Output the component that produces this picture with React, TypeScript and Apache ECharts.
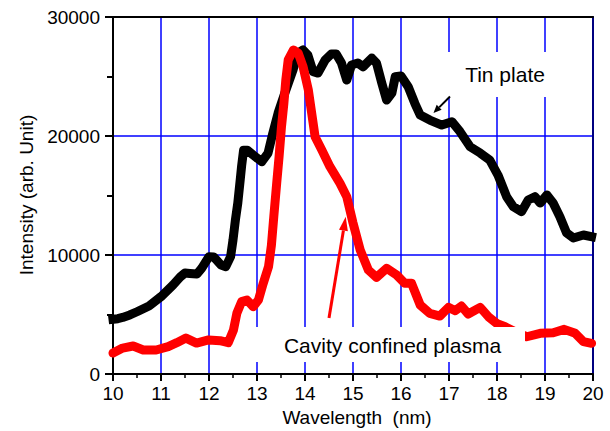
import React, { useEffect, useRef } from "react";
import * as echarts from "echarts";

const FONT = "'Liberation Sans', Arial, sans-serif";

const xTicks = [10, 11, 12, 13, 14, 15, 16, 17, 18, 19, 20];
const yTicks = [0, 10000, 20000, 30000];

const tinWavelength = [
  10.0, 10.1, 10.2, 10.35, 10.5, 10.75, 11.0, 11.25, 11.4, 11.5, 11.6, 11.75, 11.85, 12.0, 12.1,
  12.25, 12.35, 12.45, 12.5, 12.55, 12.6, 12.65, 12.68, 12.72, 12.8, 12.92, 13.1, 13.23, 13.33,
  13.44, 13.58, 13.75, 13.85, 13.96, 14.06, 14.17, 14.27, 14.42, 14.55, 14.65, 14.76, 14.87,
  14.97, 15.1, 15.21, 15.39, 15.49, 15.6, 15.7, 15.81, 15.88, 16.0, 16.15, 16.29, 16.4, 16.6,
  16.85, 17.06, 17.23, 17.44, 17.65, 17.85, 18.02, 18.2, 18.34, 18.51, 18.65, 18.79, 18.9,
  19.04, 19.17, 19.31, 19.45, 19.59, 19.8, 19.97,
];
const tinIntensity = [
  4600, 4650, 4750, 4960, 5230, 5710, 6500, 7480, 8150, 8490, 8450, 8400, 8900, 9860, 9830,
  9160, 9020, 9860, 11260, 12940, 14370, 16300, 17500, 18800, 18800, 18400, 17840, 18570, 20250,
  21930, 23610, 25550, 26970, 27230, 26800, 25400, 25290, 26390, 26900, 26900, 26130, 24700,
  25970, 26130, 25820, 26550, 26130, 24450, 23020, 23610, 24980, 25050, 24140, 22730, 21760, 21340,
  20920, 21200, 20360, 19100, 18570, 17980, 16720, 14900, 14060, 13640, 14620, 14900, 14370,
  15040, 14370, 13220, 11850, 11430, 11680, 11540,
];

const cavityWavelength = [
  10.0, 10.2, 10.42, 10.63, 10.9, 11.15, 11.33, 11.52, 11.74, 11.99, 12.23, 12.4, 12.51, 12.58,
  12.68, 12.79, 12.92, 13.03, 13.13, 13.24, 13.3, 13.35, 13.41, 13.46, 13.51, 13.56, 13.6, 13.65,
  13.76, 13.86, 13.96, 14.07, 14.14, 14.21, 14.35, 14.52, 14.73, 14.87, 15.0, 15.15, 15.32, 15.49,
  15.7, 15.91, 16.08, 16.22, 16.4, 16.6, 16.81, 16.99, 17.13, 17.26, 17.4, 17.65, 17.82, 17.99,
  18.17, 18.4, 18.62, 18.9, 19.17, 19.4, 19.63, 19.8, 19.97,
];
const cavityIntensity = [
  1760, 2180, 2350, 2020, 2020, 2300, 2630, 3020, 2600, 2860, 2800, 2630, 3700, 5100,
  6080, 6220, 5660, 6220, 7620, 9020, 10800, 13220, 16020, 18260, 20780, 22740, 24700, 26390,
  27230, 26950, 25820, 23860, 21900, 19940, 18820, 17420, 16020, 14900, 12700, 10420, 8740, 8120,
  8880, 8320, 7620, 7620, 5800, 5100, 4870, 5600, 5320, 5710, 5040, 5600, 4820, 4260,
  3970, 3500, 3130, 3420, 3470, 3750, 3420, 2720, 2580,
];

const tinLabel = "Tin plate";
const cavityLabel = "Cavity confined plasma";
const xTitle = "Wavelength  (nm)";
const yTitle = "Intensity (arb. Unit)";

function arrow(x1: number, y1: number, tx: number, ty: number, len: number, hw: number, color: string, width: number) {
  const dx = tx - x1;
  const dy = ty - y1;
  const d = Math.sqrt(dx * dx + dy * dy);
  const ux = dx / d;
  const uy = dy / d;
  const bx = tx - ux * len;
  const by = ty - uy * len;
  const px = -uy;
  const py = ux;
  return [
    {
      type: "line",
      z: 20,
      shape: { x1, y1, x2: bx, y2: by },
      style: { stroke: color, lineWidth: width },
    },
    {
      type: "polygon",
      z: 20,
      shape: {
        points: [
          [tx, ty],
          [bx + px * hw, by + py * hw],
          [bx - px * hw, by - py * hw],
        ],
      },
      style: { fill: color },
    },
  ];
}

const centered = { align: "center", verticalAlign: "middle", textAlign: "center", textVerticalAlign: "middle" };

export default function App() {
  const ref = useRef<HTMLDivElement>(null);
  useEffect(() => {
    if (!ref.current) return;
    const chart = echarts.init(ref.current, undefined, { renderer: "svg" });
    const tinData = tinWavelength.map((w, i) => [w, tinIntensity[i]]);
    const cavData = cavityWavelength.map((w, i) => [w, cavityIntensity[i]]);
    chart.setOption({
      animation: false,
      backgroundColor: "#fff",
      grid: { left: 113, right: 17, top: 17, bottom: 57, containLabel: false },
      xAxis: [
        {
          type: "value",
          min: xTicks[0],
          max: xTicks[xTicks.length - 1],
          interval: 1,
          position: "bottom",
          axisLine: { show: true, onZero: false, lineStyle: { color: "#000", width: 2 } },
          axisTick: { show: true, inside: false, length: 7, lineStyle: { color: "#000", width: 2 } },
          minorTick: { show: true, splitNumber: 2, length: 4, lineStyle: { color: "#000", width: 1.5 } },
          axisLabel: { color: "#000", fontSize: 19, fontFamily: FONT, margin: 10, formatter: (v: number) => String(v) },
          splitLine: { show: true, lineStyle: { color: "#0000ff", width: 1.5 } },
        },
        {
          type: "value",
          min: xTicks[0],
          max: xTicks[xTicks.length - 1],
          position: "top",
          axisLine: { show: true, onZero: false, lineStyle: { color: "#000", width: 2 } },
          axisTick: { show: false },
          axisLabel: { show: false },
          splitLine: { show: false },
        },
      ],
      yAxis: [
        {
          type: "value",
          min: yTicks[0],
          max: yTicks[yTicks.length - 1],
          interval: 10000,
          position: "left",
          axisLine: { show: true, onZero: false, lineStyle: { color: "#000", width: 2 } },
          axisTick: { show: true, inside: false, length: 8, lineStyle: { color: "#000", width: 2 } },
          minorTick: { show: true, splitNumber: 2, length: 6, lineStyle: { color: "#000", width: 2 } },
          axisLabel: { color: "#000", fontSize: 19, fontFamily: FONT, margin: 13, formatter: (v: number) => String(v) },
          splitLine: { show: true, lineStyle: { color: "#0000ff", width: 1.5 } },
        },
        {
          type: "value",
          min: yTicks[0],
          max: yTicks[yTicks.length - 1],
          position: "right",
          axisLine: { show: true, onZero: false, lineStyle: { color: "#000080", width: 2 } },
          axisTick: { show: false },
          axisLabel: { show: false },
          splitLine: { show: false },
        },
      ],
      series: [
        {
          type: "line",
          name: tinLabel,
          data: tinData,
          xAxisIndex: 0,
          yAxisIndex: 0,
          showSymbol: false,
          symbol: "rect",
          lineStyle: { color: "#000", width: 9, join: "round", cap: "square" },
          itemStyle: { color: "#000" },
          z: 2,
        },
        {
          type: "line",
          name: cavityLabel,
          data: cavData,
          xAxisIndex: 0,
          yAxisIndex: 0,
          showSymbol: false,
          symbol: "circle",
          lineStyle: { color: "#ff0000", width: 9, join: "round", cap: "round" },
          itemStyle: { color: "#ff0000" },
          z: 3,
        },
      ],
      graphic: [
        {
          type: "rect",
          z: 10,
          shape: { x: 446, y: 52, width: 119, height: 45 },
          style: { fill: "#fff" },
        },
        {
          type: "text",
          z: 11,
          x: 505,
          y: 74.5,
          style: { text: tinLabel, font: `21px ${FONT}`, fill: "#000", ...centered },
        },
        {
          type: "rect",
          z: 10,
          shape: { x: 250, y: 327, width: 275, height: 35 },
          style: { fill: "#fff" },
        },
        {
          type: "text",
          z: 11,
          x: 392.5,
          y: 345,
          style: { text: cavityLabel, font: `21px ${FONT}`, fill: "#000", ...centered },
        },
        ...arrow(450, 96.5, 433.5, 113, 8, 3.5, "#000", 2),
        ...arrow(329, 318, 345.7, 216.7, 14, 4.5, "#ff0000", 3),
        {
          type: "text",
          z: 11,
          x: 357,
          y: 417,
          style: { text: xTitle, font: `19px ${FONT}`, fill: "#000", ...centered },
        },
        {
          type: "text",
          z: 11,
          x: 26,
          y: 195,
          rotation: Math.PI / 2,
          style: { text: yTitle, font: `19px ${FONT}`, fill: "#000", ...centered },
        },
      ],
    });
    return () => chart.dispose();
  }, []);
  return (
    <div
      ref={ref}
      style={{ position: "fixed", left: 0, top: 0, width: 610, height: 431, background: "#fff" }}
    />
  );
}
